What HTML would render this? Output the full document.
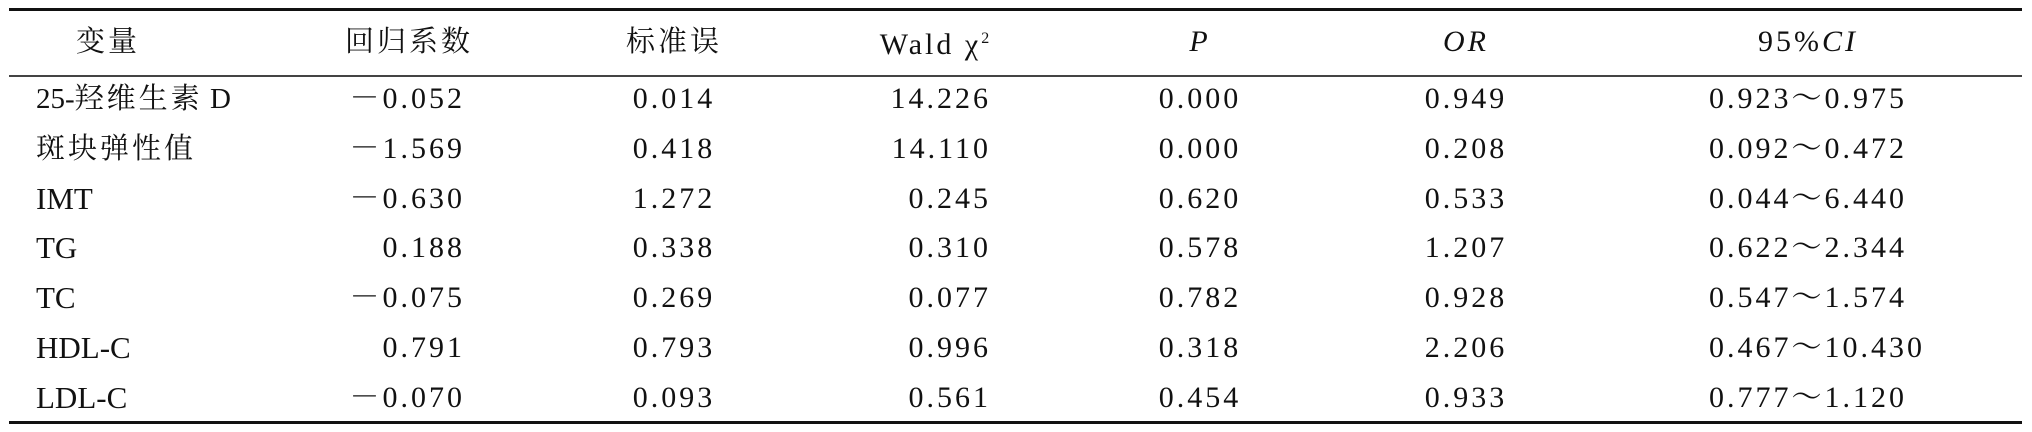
<!DOCTYPE html>
<html><head><meta charset="utf-8"><style>
html,body{margin:0;padding:0;background:#fff;}
#t{position:relative;width:2032px;height:432px;overflow:hidden;background:#fff;color:#111;
font-family:"Liberation Serif","Noto Serif CJK SC","Noto Sans CJK SC",serif;}
.c{position:absolute;white-space:nowrap;font-size:30px;line-height:30px;letter-spacing:3px;}
.cjk{font-size:29px;}
.lat{font-size:31px;letter-spacing:0;}
.rule{position:absolute;left:9px;width:2013px;background:#111;}
</style></head><body>
<div id="t">
<div class="rule" style="top:8px;height:3px"></div>
<div class="rule" style="top:75px;height:2px;background:#444"></div>
<div class="rule" style="top:421px;height:3px"></div>
</div>
<script>
const headers=["变量","回归系数","标准误","Wald χ<sup style=\"font-size:16px\">2</sup>","<i>P</i>","<i>OR</i>","95%<i>CI</i>"];
const variables=["<span style=\"letter-spacing:0\">25-</span>羟维生素<span style=\"letter-spacing:0\"> D</span>","斑块弹性值","IMT","TG","TC","HDL-C","LDL-C"];
const latinLabel=[false,false,true,true,true,true,true];
const coef=["－0.052","－1.569","－0.630","0.188","－0.075","0.791","－0.070"];
const se=["0.014","0.418","1.272","0.338","0.269","0.793","0.093"];
const wald=["14.226","14.110","0.245","0.310","0.077","0.996","0.561"];
const pval=["0.000","0.000","0.620","0.578","0.782","0.318","0.454"];
const orv=["0.949","0.208","0.533","1.207","0.928","2.206","0.933"];
const ci=["0.923～0.975","0.092～0.472","0.044～6.440","0.622～2.344","0.547～1.574","0.467～10.430","0.777～1.120"];
const t=document.getElementById('t');
const rowY=i=>99+i*49.83;
function put(html,x,y,align,cls,name){
  const s=document.createElement('span');
  s.className='c'+(cls?' '+cls:'');
  s.innerHTML=html;
  
  
  let tx=align==='c'?'-50%':(align==='r'?'-100%':'0');
  s.style.left=x+'px';s.style.top=y+'px';
  s.style.transform='translate('+tx+',-50%)';
  t.appendChild(s);
}
const hx=[108,409,674,936,1200,1466,1808];
headers.forEach((h,i)=>put(h,hx[i],42,'c',i<3?'cjk':'','header-'+i));
variables.forEach((v,i)=>{
  const y=rowY(i);
  put(v,36,y,'l',latinLabel[i]?'lat':'cjk','variable-label');
  put(coef[i],465,y,'r','','coef-value');
  put(se[i],674,y,'c','','se-value');
  put(wald[i],991,y,'r','','wald-value');
  put(pval[i],1200,y,'c','','p-value');
  put(orv[i],1466,y,'c','','or-value');
  put(ci[i],1709,y,'l','','ci-value');
});
</script>
</body></html>
